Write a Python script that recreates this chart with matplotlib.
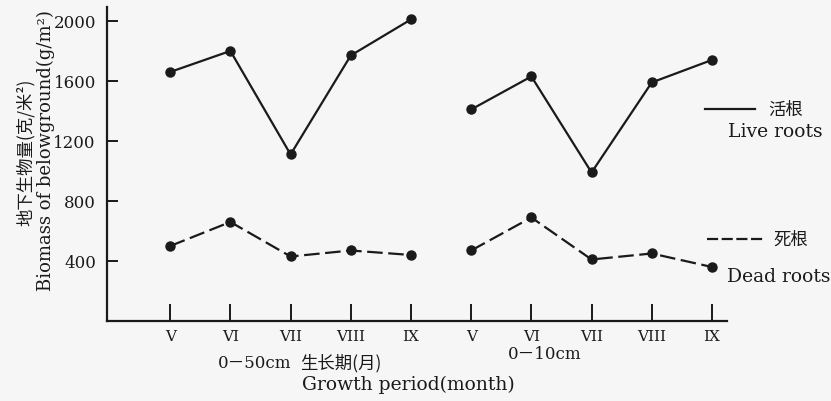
import matplotlib

matplotlib.use("Agg")
import matplotlib.pyplot as plt
from matplotlib.lines import Line2D

# Below-ground biomass (g/m2).
months = ["V", "VI", "VII", "VIII", "IX"]
live_0_50 = [1660, 1800, 1110, 1770, 2010]
dead_0_50 = [500, 660, 430, 470, 440]
live_0_10 = [1410, 1630, 990, 1590, 1740]
dead_0_10 = [470, 690, 410, 450, 360]
y_ticks = [400, 800, 1200, 1600, 2000]

W, H = 831, 402
INK = "#1a1a1a"
SERIF = ["DejaVu Serif", "Noto Sans CJK SC"]
CJK = ["Noto Sans CJK SC", "DejaVu Sans"]


def fx(x):
    return x / W


def fy(y):
    return 1 - y / H


fig = plt.figure(figsize=(W / 100, H / 100), dpi=100, facecolor="#f6f6f6")
ax = fig.add_axes([fx(107), fy(322), fx(727) - fx(107), fy(8) - fy(322)])
ax.set_facecolor("none")

x1 = list(range(len(months)))
x2 = [i + len(months) for i in x1]
dash = (0, (7, 2.5))
for xs, live, dead in [(x1, live_0_50, dead_0_50), (x2, live_0_10, dead_0_10)]:
    ax.plot(xs, live, color=INK, lw=1.6, marker="o", ms=6.5)
    ax.plot(xs, dead, color=INK, lw=1.6, ls=dash, marker="o", ms=6.5)

ax.set_xlim(-1.05, 9.25)
ax.set_ylim(0, 2093)
ax.set_xticks(x1 + x2, months + months)
ax.set_yticks(y_ticks)
for s in ("top", "right"):
    ax.spines[s].set_visible(False)
for s in ("left", "bottom"):
    ax.spines[s].set_linewidth(1.6)
    ax.spines[s].set_color(INK)
ax.tick_params(axis="x", direction="in", length=12, width=1.4, pad=6,
               colors=INK, labelsize=11)
ax.tick_params(axis="y", direction="in", length=8, width=1.4, pad=8,
               colors=INK, labelsize=12)
for lab in ax.get_xticklabels() + ax.get_yticklabels():
    lab.set_family(SERIF)

# axis titles
fig.text(fx(26), fy(152), "地下生物量(克/米²)", rotation=90, ha="center",
         va="center", fontsize=12.5, family=CJK, color=INK)
fig.text(fx(46), fy(151), "Biomass of belowground(g/m²)", rotation=90,
         ha="center", va="center", fontsize=13, family=SERIF, color=INK)
fig.text(fx(291), fy(363), "0－50cm", ha="right", va="center", fontsize=12,
         family=SERIF, color=INK)
fig.text(fx(300), fy(363), "生长期(月)", ha="left", va="center", fontsize=12.5,
         family=CJK, color=INK)
fig.text(fx(545), fy(355), "0－10cm", ha="center", va="center", fontsize=12,
         family=SERIF, color=INK)
fig.text(fx(408), fy(385), "Growth period(month)", ha="center", va="center",
         fontsize=13.5, family=SERIF, color=INK)

# hand-drawn legend
fig.add_artist(Line2D([fx(705), fx(755)], [fy(110), fy(110)], color=INK, lw=1.6))
fig.text(fx(786), fy(110), "活根", ha="center", va="center", fontsize=12.5,
         family=CJK, color=INK)
fig.text(fx(775), fy(132), "Live roots", ha="center", va="center",
         fontsize=13.5, family=SERIF, color=INK)
fig.add_artist(Line2D([fx(707), fx(765)], [fy(240), fy(240)], color=INK, lw=1.6,
                      ls=(0, (5, 1.6))))
fig.text(fx(791), fy(240), "死根", ha="center", va="center", fontsize=12.5,
         family=CJK, color=INK)
fig.text(fx(779), fy(277), "Dead roots", ha="center", va="center",
         fontsize=13.5, family=SERIF, color=INK)

fig.savefig("out.png", dpi=100, facecolor=fig.get_facecolor())
